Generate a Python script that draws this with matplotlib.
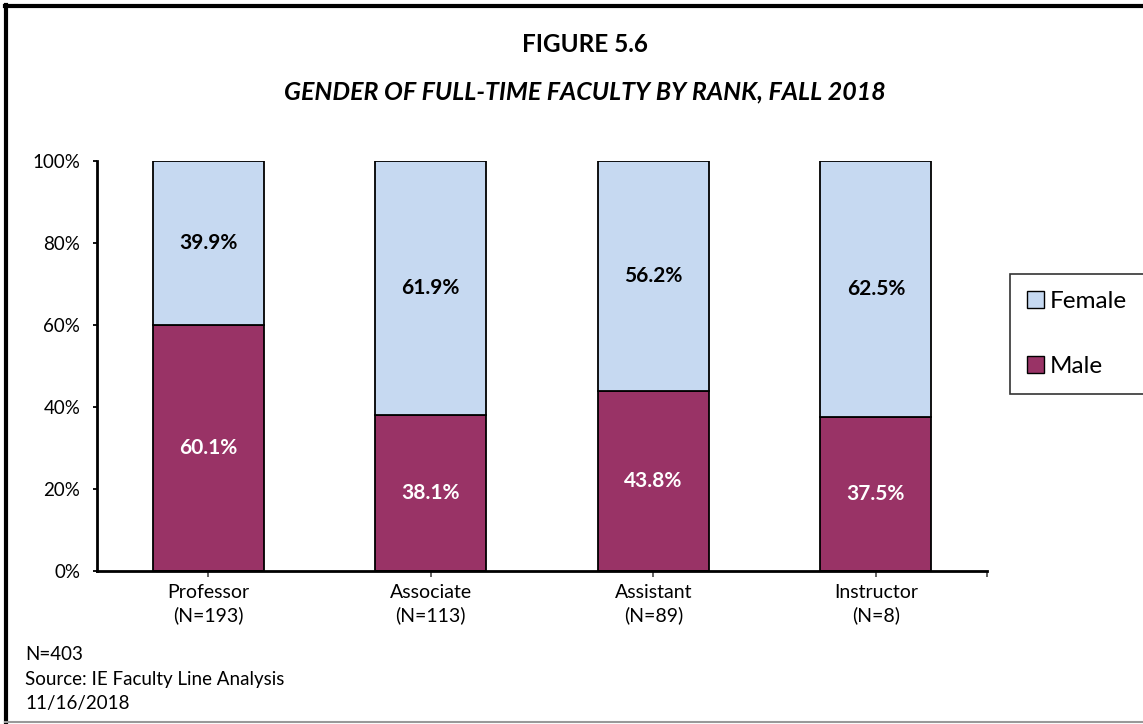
import matplotlib
matplotlib.use("Agg")
from matplotlib import pyplot as plt
from matplotlib.lines import Line2D
from matplotlib.patches import Patch

ranks = ["Professor", "Associate", "Assistant", "Instructor"]
counts = [193, 113, 89, 8]
male = [60.1, 38.1, 43.8, 37.5]
female = [39.9, 61.9, 56.2, 62.5]
total_n = 403

male_color = "#993366"
female_color = "#C6D9F1"

plt.rcParams["font.family"] = ["Lato", "DejaVu Sans"]

fig = plt.figure(figsize=(11.43, 7.24), dpi=100)
ax = fig.add_axes([0.0849, 0.2113, 0.7787, 0.5663])

x = list(range(len(ranks)))
ax.bar(x, male, width=0.5, color=male_color, edgecolor="black", linewidth=1.3, zorder=2)
ax.bar(x, female, width=0.5, bottom=male, color=female_color, edgecolor="black",
       linewidth=1.3, zorder=2)

for i in x:
    ax.text(i, male[i] / 2, f"{male[i]:.1f}%", ha="center", va="center",
            fontsize=15, fontweight="bold", color="white")
    ax.text(i, male[i] + female[i] / 2, f"{female[i]:.1f}%", ha="center", va="center",
            fontsize=15, fontweight="bold", color="black")

ax.set_xlim(-0.5, 3.5)
ax.set_ylim(0, 100)
ax.set_yticks(range(0, 101, 20))
ax.set_yticklabels([f"{v}%" for v in range(0, 101, 20)], fontsize=13.5)
ax.set_xticks(x)
ax.set_xticklabels([f"{r}\n(N={n})" for r, n in zip(ranks, counts)], fontsize=14,
                   linespacing=1.4)
ax.set_xticks([3.5], minor=True)
ax.tick_params(axis="x", which="both", length=4, width=1.3, color="#555555", pad=5)
ax.tick_params(axis="y", length=3, width=1.3, pad=9)

for side in ["top", "right"]:
    ax.spines[side].set_visible(False)
for side in ["left", "bottom"]:
    ax.spines[side].set_linewidth(2)

handles = [Patch(facecolor=female_color, edgecolor="black", linewidth=1),
           Patch(facecolor=male_color, edgecolor="black", linewidth=1)]
leg = fig.legend(handles, ["Female", "Male"], loc="center left",
                 bbox_to_anchor=(0.8836, 0.539), fontsize=17.5, frameon=True,
                 fancybox=False, edgecolor="black", handlelength=0.7,
                 handleheight=0.7, handletextpad=0.25, labelspacing=1.8,
                 borderpad=0.7, borderaxespad=0)
leg.get_frame().set_linewidth(1.2)

fig.text(0.5117, 0.939, "FIGURE 5.6", ha="center", va="center", fontsize=17.5,
         fontweight="bold")
fig.text(0.5117, 0.873, "GENDER OF FULL-TIME FACULTY BY RANK, FALL 2018", ha="center",
         va="center", fontsize=18, fontweight="bold", style="italic")

fig.text(0.022, 0.096, f"N={total_n}", ha="left", va="center", fontsize=13.5)
fig.text(0.022, 0.062, "Source: IE Faculty Line Analysis", ha="left", va="center",
         fontsize=13.5)
fig.text(0.022, 0.028, "11/16/2018", ha="left", va="center", fontsize=13.5)

# outer frame of the figure
fig.add_artist(Line2D([0.005, 0.005], [0.003, 0.993], transform=fig.transFigure,
                      color="black", linewidth=3))
fig.add_artist(Line2D([0.004, 1.0], [0.992, 0.992], transform=fig.transFigure,
                      color="black", linewidth=3))
fig.add_artist(Line2D([0.004, 1.0], [0.003, 0.003], transform=fig.transFigure,
                      color="#999999", linewidth=1.5))

fig.savefig("out.png", dpi=100, facecolor="white")
